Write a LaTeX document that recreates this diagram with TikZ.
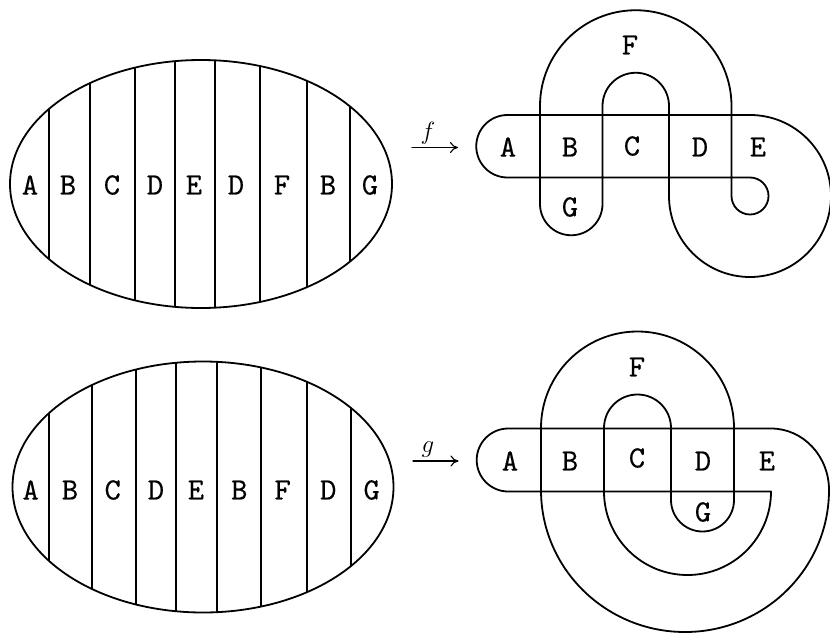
\documentclass[tikz,border=0pt]{standalone}
\usepackage{fontspec}
\newfontfamily\labfont{lmmono10-regular.otf}[FakeBold=0.4]
\usetikzlibrary{arrows.meta}
\begin{document}
\begin{tikzpicture}[x=1pt,y=-1pt,line join=round,line cap=round,
  outline/.style={line width=1.8pt},
  stripe/.style={line width=1.5pt},
  lab/.style={font=\labfont\fontsize{31}{35}\selectfont,inner sep=0pt},
  maplab/.style={font=\fontsize{25}{29}\selectfont,inner sep=0pt,anchor=base},
  maparrow/.style={line width=1.1pt,-{To[length=8pt,width=11pt]}}]

\useasboundingbox (0,0) rectangle (830,635);

% ---------- upper disc, cut into nine strips ----------
\begin{scope}
  \clip (201,184) ellipse[x radius=191,y radius=124];
  \foreach \x in {49,90,135,175,215,260,307,350}
    \draw[stripe] (\x,50) -- (\x,320);
\end{scope}
\draw[outline] (201,184) ellipse[x radius=191,y radius=124];
\foreach \x/\t [count=\i] in {30/A,68/B,112/C,155/D,194/E,236/D,282/F,328/B,370/G}
  \node[lab] (u\i) at (\x,185) {\t};

% ---------- lower disc, cut into nine strips ----------
\begin{scope}
  \clip (203,487) ellipse[x radius=190.5,y radius=125.5];
  \foreach \x in {49,92,136,176,217,261,307,351}
    \draw[stripe] (\x,350) -- (\x,625);
\end{scope}
\draw[outline] (203,487) ellipse[x radius=190.5,y radius=125.5];
\foreach \x/\t [count=\i] in {30.7/A,70/B,112.7/C,156/D,196/E,239.3/B,282.7/F,328.3/D,371.7/G}
  \node[lab] (l\i) at (\x,490) {\t};

% ---------- the maps ----------
\coordinate (f0) at (412,147.5);
\coordinate (f1) at (458,147.5);
\draw[maparrow] (f0) -- (f1);
\node[maplab] (flab) at (428,139) {$f$};

\coordinate (g0) at (413,461);
\coordinate (g1) at (458.5,461);
\draw[maparrow] (g0) -- (g1);
\node[maplab] (glab) at (428,452) {$g$};

% ---------- image of f: the band laid in the plane ----------
\draw[outline] (507.5,115) -- (750,115) arc[start angle=-90,end angle=180,radius=81]
  -- (669,106) arc[start angle=0,end angle=-180,radius=33.25]
  -- (602.5,204) arc[start angle=0,end angle=180,radius=31.25]
  -- (540,106) arc[start angle=180,end angle=360,radius=95.75]
  -- (731.5,196) arc[start angle=180,end angle=-90,radius=18.5]
  -- (507.5,177.5) arc[start angle=90,end angle=270,radius=31.25] -- cycle;
\node[lab] (fA) at (508,147) {A};
\node[lab] (fB) at (570,147) {B};
\node[lab] (fC) at (632,146) {C};
\node[lab] (fD) at (700,147) {D};
\node[lab] (fE) at (758,147) {E};
\node[lab] (fF) at (630,45) {F};
\node[lab] (fG) at (570,207) {G};

% ---------- image of g ----------
\draw[outline] (508.2,428.5) -- (771,428.5)
  arc[start angle=-90,end angle=0,x radius=58,y radius=61.5]
  arc[start angle=0,end angle=180,x radius=144,y radius=142]
  -- (541,428) arc[start angle=180,end angle=360,radius=96.5]
  -- (734,500) arc[start angle=0,end angle=180,radius=31.5]
  -- (671,428) arc[start angle=0,end angle=-180,radius=33.5]
  -- (604,491.5) arc[start angle=180,end angle=0,radius=83.5]
  -- (508.2,491.5) arc[start angle=90,end angle=270,radius=31.5] -- cycle;
\node[lab] (gA) at (510,461) {A};
\node[lab] (gB) at (570,461) {B};
\node[lab] (gC) at (637,458) {C};
\node[lab] (gD) at (703,461) {D};
\node[lab] (gE) at (767,461) {E};
\node[lab] (gF) at (637,367) {F};
\node[lab] (gG) at (703,512) {G};
\end{tikzpicture}
\end{document}
